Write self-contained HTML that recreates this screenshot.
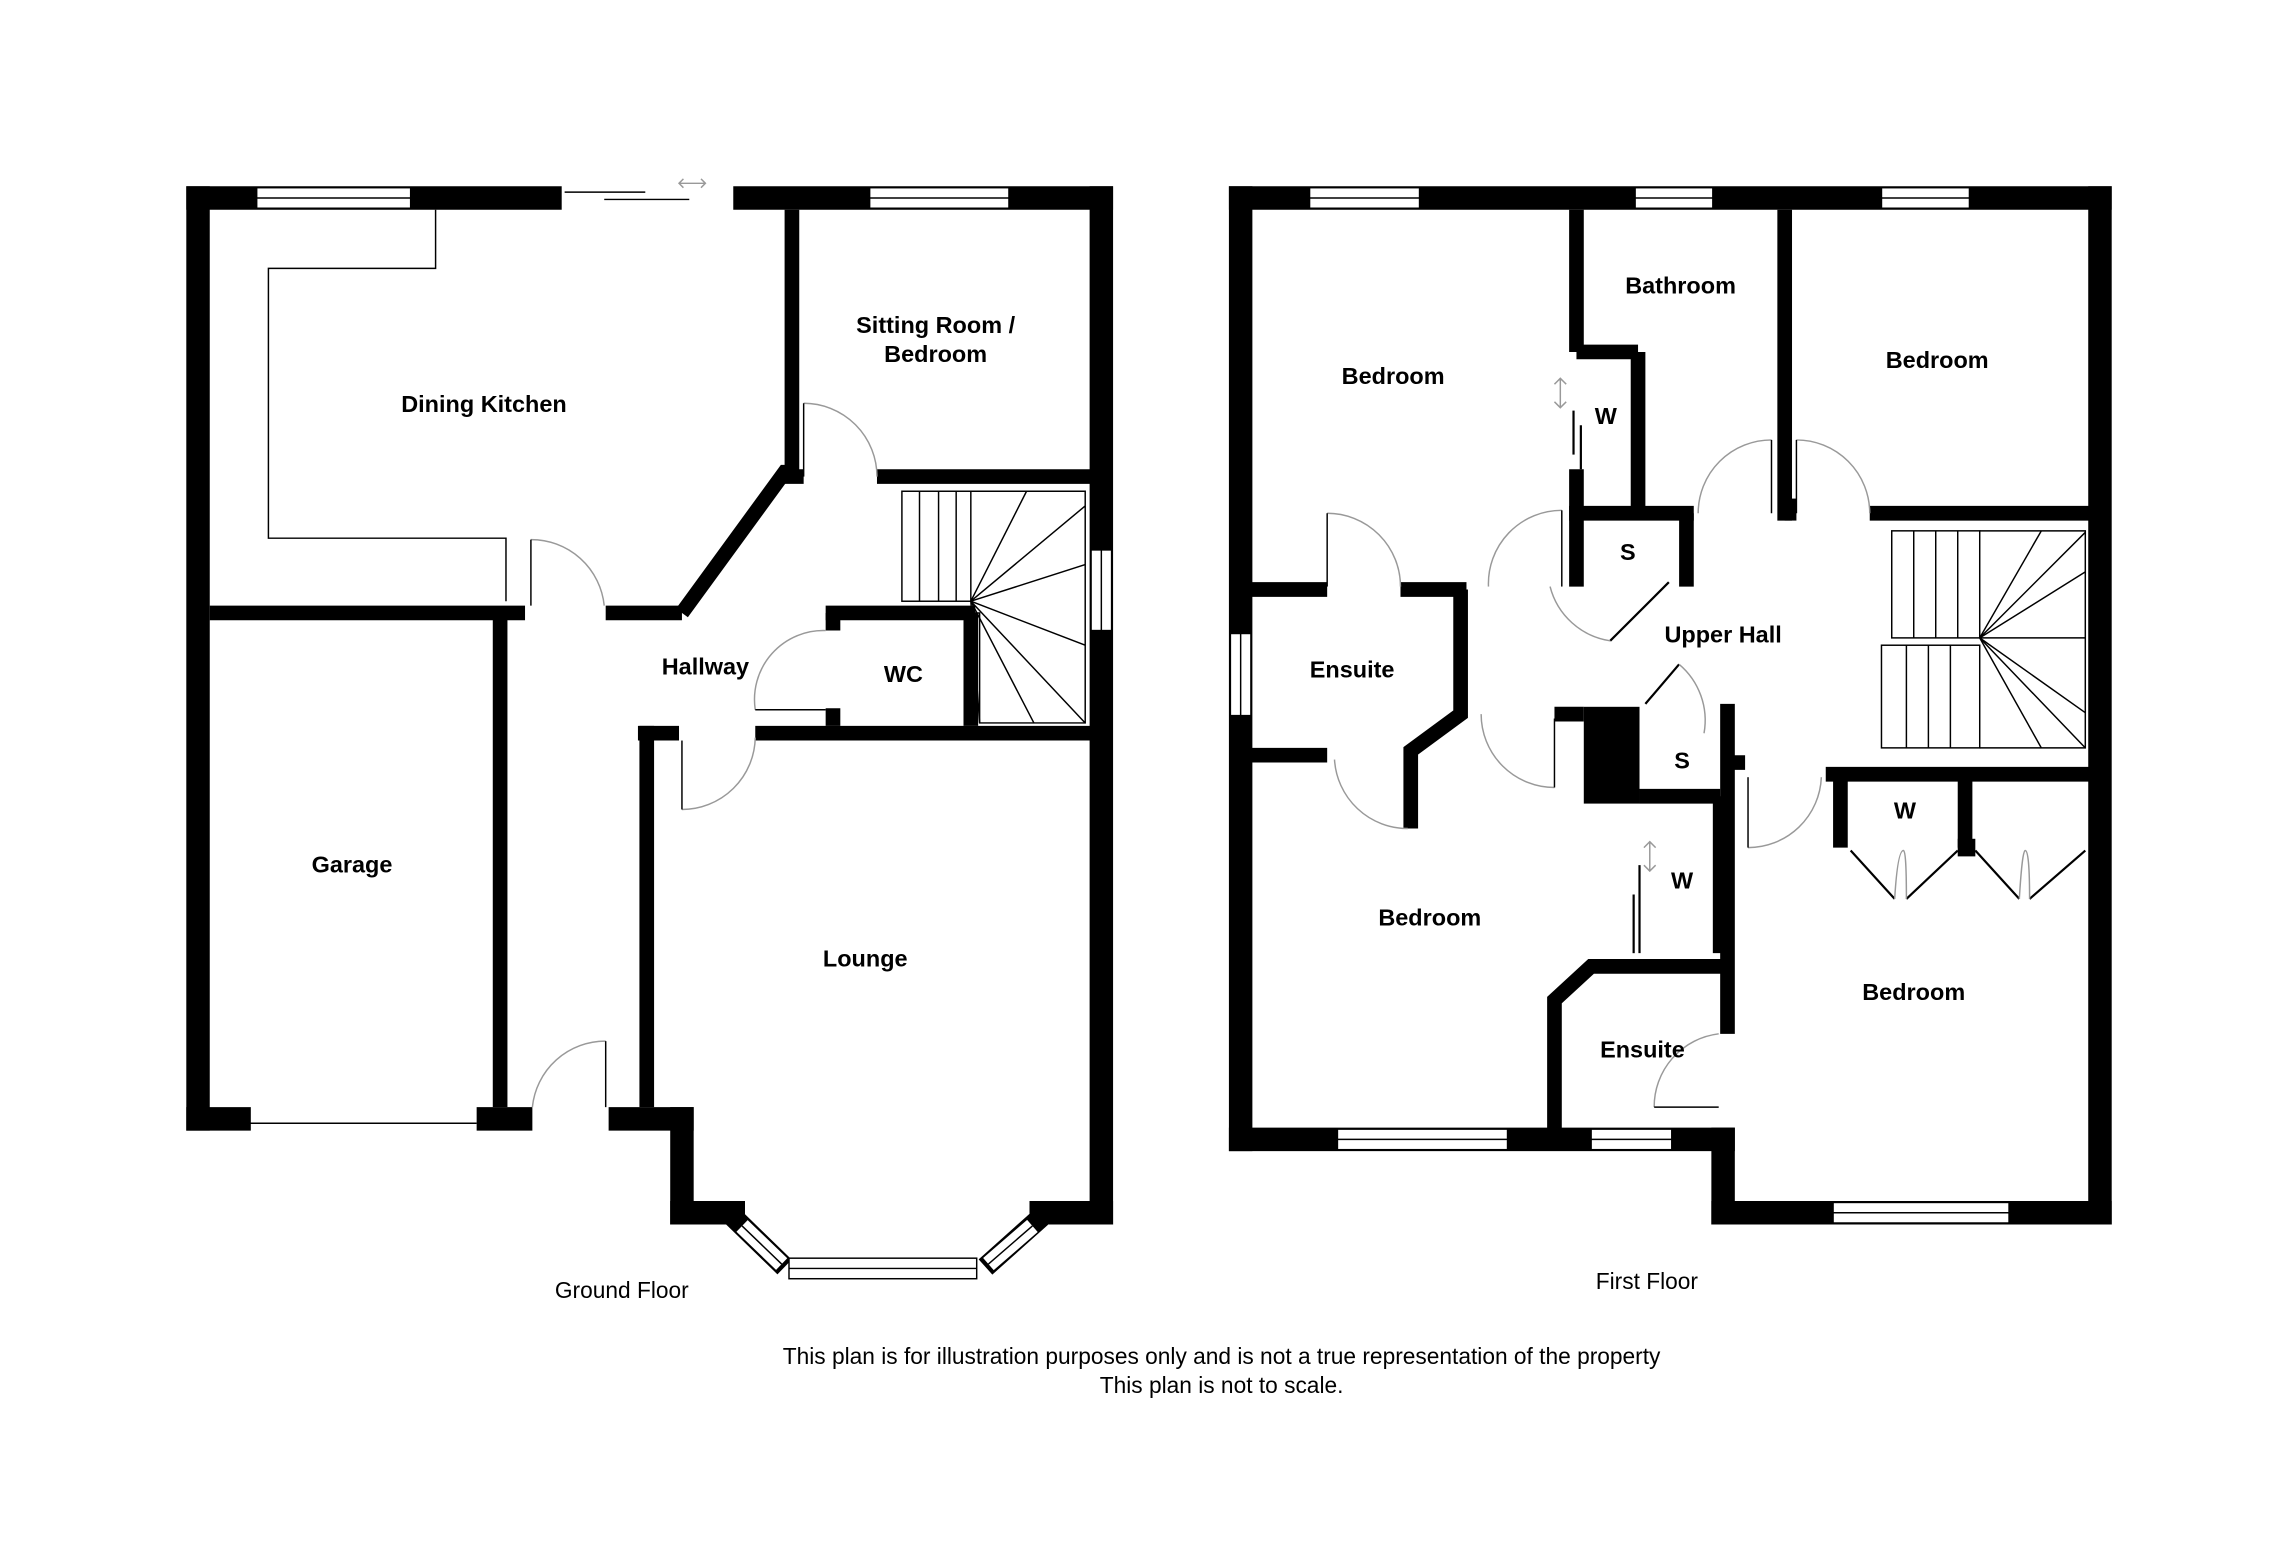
<!DOCTYPE html>
<html><head><meta charset="utf-8"><style>
html,body{margin:0;padding:0;background:#fff}
svg{display:block}
text{font-family:"Liberation Sans",sans-serif;fill:#000}
.b{font-weight:bold;font-size:16px}
.n{font-size:15.5px}
</style></head><body>
<svg width="2276" height="1550" viewBox="0 0 1552 1057" xmlns="http://www.w3.org/2000/svg">
<g stroke="#000" stroke-width="16" fill="none" stroke-linecap="square">
<line x1="135" y1="135" x2="375" y2="135"/>
<line x1="508" y1="135" x2="751" y2="135"/>
<line x1="135" y1="135" x2="135" y2="763"/>
<line x1="751" y1="135" x2="751" y2="827"/>
<line x1="135" y1="763" x2="163" y2="763"/>
<line x1="333" y1="763" x2="355" y2="763"/>
<line x1="423" y1="763" x2="465" y2="763"/>
<line x1="465" y1="763" x2="465" y2="827"/>
<line x1="465" y1="827" x2="500" y2="827"/>
<line x1="710" y1="827" x2="751" y2="827"/>
<line x1="846" y1="135" x2="1432" y2="135"/>
<line x1="846" y1="135" x2="846" y2="777"/>
<line x1="1432" y1="135" x2="1432" y2="827"/>
<line x1="846" y1="777" x2="1175" y2="777"/>
<line x1="1175" y1="777" x2="1175" y2="827"/>
<line x1="1175" y1="827" x2="1432" y2="827"/>
</g>
<!-- bay diagonals as windows -->
<g stroke="#000" stroke-width="14" fill="none">
<line x1="500" y1="830" x2="535" y2="864"/>
<line x1="710" y1="830" x2="672" y2="864"/>
</g>
<g stroke="#fff" stroke-width="11" fill="none">
<line x1="506" y1="836" x2="533" y2="862"/>
<line x1="704" y1="836" x2="674" y2="862"/>
</g>
<g stroke="#000" stroke-width="1" fill="none">
<line x1="506" y1="836" x2="533" y2="862"/>
<line x1="704" y1="836" x2="674" y2="862"/>
</g>
<g fill="#fff" stroke="#000" stroke-width="1">
<rect x="175" y="128" width="105" height="14"/>
<rect x="593" y="128" width="95" height="14"/>
<rect x="744" y="375" width="14" height="55"/>
<rect x="538" y="858" width="128" height="14"/>
<rect x="893" y="128" width="75" height="14"/>
<rect x="1115" y="128" width="53" height="14"/>
<rect x="1283" y="128" width="60" height="14"/>
<rect x="839" y="432" width="14" height="56"/>
<rect x="912" y="770" width="116" height="14"/>
<rect x="1085" y="770" width="55" height="14"/>
<rect x="1250" y="820" width="120" height="14"/>
</g>
<g stroke="#000" stroke-width="1" fill="none">
<line x1="175" y1="135" x2="280" y2="135"/><line x1="593" y1="135" x2="688" y2="135"/>
<line x1="751" y1="375" x2="751" y2="430"/><line x1="538" y1="865" x2="666" y2="865"/>
<line x1="893" y1="135" x2="968" y2="135"/><line x1="1115" y1="135" x2="1168" y2="135"/>
<line x1="1283" y1="135" x2="1343" y2="135"/><line x1="846" y1="432" x2="846" y2="488"/>
<line x1="912" y1="777" x2="1028" y2="777"/><line x1="1085" y1="777" x2="1140" y2="777"/>
<line x1="1250" y1="827" x2="1370" y2="827"/>
<line x1="170" y1="766" x2="325" y2="766"/>
<line x1="385" y1="131" x2="440" y2="131"/><line x1="412" y1="136" x2="470" y2="136"/>
<path d="M463,125 h18 M466,122 l-3,3 3,3 M478,122 l3,3 -3,3" stroke="#999"/>
<polyline points="297,143 297,183 183,183 183,367 345,367 345,410"/>
</g>
<g stroke="#000" stroke-width="10" fill="none">
<line x1="143" y1="418" x2="358" y2="418"/>
<line x1="413" y1="418" x2="465" y2="418"/>
<polyline points="465,418 535,322 540,322 540,143"/>
<line x1="535" y1="325" x2="548" y2="325"/>
<line x1="598" y1="325" x2="745" y2="325"/>
<line x1="341" y1="418" x2="341" y2="755"/>
<line x1="441" y1="495" x2="441" y2="755"/>
<line x1="435" y1="500" x2="463" y2="500"/>
<line x1="515" y1="500" x2="745" y2="500"/>
<line x1="563" y1="418" x2="665" y2="418"/>
<line x1="568" y1="418" x2="568" y2="430"/>
<line x1="568" y1="483" x2="568" y2="495"/>
<line x1="662" y1="418" x2="662" y2="495"/>
</g>
<g stroke="#000" stroke-width="10" fill="none">
<line x1="1075" y1="143" x2="1075" y2="240"/>
<line x1="1075" y1="240" x2="1117" y2="240"/>
<line x1="1117" y1="240" x2="1117" y2="350"/>
<line x1="1075" y1="320" x2="1075" y2="400"/>
<line x1="1070" y1="350" x2="1155" y2="350"/>
<line x1="1150" y1="350" x2="1150" y2="400"/>
<line x1="1217" y1="143" x2="1217" y2="355"/>
<line x1="1275" y1="350" x2="1425" y2="350"/>
<line x1="853" y1="402" x2="905" y2="402"/>
<line x1="955" y1="402" x2="1000" y2="402"/>
<polyline points="996,402 996,487 962,512 962,565"/>
<line x1="853" y1="515" x2="905" y2="515"/>
<line x1="1060" y1="487" x2="1080" y2="487"/>
<line x1="1118" y1="543" x2="1173" y2="543"/>
<line x1="1178" y1="480" x2="1178" y2="705"/>
<line x1="1178" y1="520" x2="1190" y2="520"/>
<line x1="1245" y1="528" x2="1425" y2="528"/>
<line x1="1255" y1="528" x2="1255" y2="578"/>
<line x1="1340" y1="528" x2="1340" y2="578"/>
<line x1="1173" y1="543" x2="1173" y2="650"/>
<polyline points="1175,659 1085,659 1060,682 1060,770"/>
</g>
<rect x="1080" y="482" width="38" height="66" fill="#000"/>
<rect x="1335" y="572" width="12" height="12" fill="#000"/>
<rect x="1217" y="340" width="8" height="15" fill="#000"/>
<g stroke="#000" stroke-width="1.5" fill="none">
<line x1="1078" y1="290" x2="1078" y2="320"/><line x1="1073" y1="280" x2="1073" y2="310"/>
<line x1="1118" y1="590" x2="1118" y2="650"/><line x1="1114" y1="610" x2="1114" y2="650"/>
<line x1="1098" y1="437" x2="1138" y2="397"/>
<line x1="1122" y1="480" x2="1145" y2="453"/>
<polyline points="1262,580 1292,613"/><polyline points="1300,613 1335,580"/>
<polyline points="1347,580 1377,613"/><polyline points="1384,613 1422,580"/>
</g>
<g stroke="#999" stroke-width="1" fill="none">
<path d="M548,275 A50,50 0 0 1 598,325"/><line x1="548" y1="275" x2="548" y2="325" stroke="#000"/>
<path d="M362,368 A50,50 0 0 1 412,413"/><line x1="362" y1="368" x2="362" y2="413" stroke="#000"/>
<path d="M515,484 A47,47 0 0 1 563,430"/><line x1="515" y1="484" x2="563" y2="484" stroke="#000"/>
<path d="M465,552 A50,50 0 0 0 515,503"/><line x1="465" y1="505" x2="465" y2="552" stroke="#000"/>
<path d="M363,755 A50,50 0 0 1 413,710"/><line x1="413" y1="710" x2="413" y2="755" stroke="#000"/>
<path d="M905,350 A50,50 0 0 1 955,400"/><line x1="905" y1="350" x2="905" y2="400" stroke="#000"/>
<path d="M1015,400 A50,50 0 0 1 1065,348"/><line x1="1065" y1="348" x2="1065" y2="400" stroke="#000"/>
<path d="M1158,350 A50,50 0 0 1 1208,300"/><line x1="1208" y1="300" x2="1208" y2="350" stroke="#000"/>
<path d="M1225,300 A50,50 0 0 1 1275,350"/><line x1="1225" y1="300" x2="1225" y2="350" stroke="#000"/>
<path d="M1057,400 A50,50 0 0 0 1098,437"/>
<path d="M1145,453 A50,50 0 0 1 1162,500"/>
<path d="M1010,487 A50,50 0 0 0 1060,537"/><line x1="1060" y1="490" x2="1060" y2="537" stroke="#000"/>
<path d="M910,518 A50,50 0 0 0 960,565"/>
<path d="M1192,578 A50,50 0 0 0 1242,530"/><line x1="1192" y1="530" x2="1192" y2="578" stroke="#000"/>
<path d="M1128,755 A50,50 0 0 1 1172,705"/><line x1="1128" y1="755" x2="1172" y2="755" stroke="#000"/>
<path d="M1292,613 Q1294,580 1298,580 Q1300,580 1300,613"/>
<path d="M1377,613 Q1379,580 1381,580 Q1384,580 1384,613"/>
<path d="M1064,258 v20 M1060,262 l4,-4 4,4 M1060,274 l4,4 4,-4"/>
<path d="M1125,574 v20 M1121,578 l4,-4 4,4 M1121,590 l4,4 4,-4"/>
</g>
<g stroke="#000" stroke-width="1" fill="none">
<rect x="615" y="335" width="47" height="75"/>
<line x1="627" y1="335" x2="627" y2="410"/><line x1="640" y1="335" x2="640" y2="410"/><line x1="652" y1="335" x2="652" y2="410"/>
<polyline points="662,335 740,335 740,493 668,493 668,418 662,418"/>
<line x1="662" y1="410" x2="700" y2="335"/><line x1="662" y1="410" x2="740" y2="345"/><line x1="662" y1="410" x2="740" y2="385"/>
<line x1="662" y1="410" x2="740" y2="440"/><line x1="662" y1="410" x2="740" y2="493"/><line x1="662" y1="410" x2="705" y2="493"/><line x1="662" y1="410" x2="668" y2="493"/>
</g>
<g stroke="#000" stroke-width="1" fill="none">
<rect x="1290" y="362" width="60" height="73"/>
<line x1="1305" y1="362" x2="1305" y2="435"/><line x1="1320" y1="362" x2="1320" y2="435"/><line x1="1335" y1="362" x2="1335" y2="435"/>
<rect x="1283" y="440" width="67" height="70"/>
<line x1="1300" y1="440" x2="1300" y2="510"/><line x1="1315" y1="440" x2="1315" y2="510"/><line x1="1330" y1="440" x2="1330" y2="510"/>
<polyline points="1350,362 1422,362 1422,510 1350,510"/>
<line x1="1350" y1="435" x2="1392" y2="362"/><line x1="1350" y1="435" x2="1422" y2="363"/><line x1="1350" y1="435" x2="1422" y2="390"/>
<line x1="1350" y1="435" x2="1422" y2="435"/><line x1="1350" y1="435" x2="1422" y2="486"/><line x1="1350" y1="435" x2="1422" y2="510"/><line x1="1350" y1="435" x2="1392" y2="510"/>
</g>
<g class="b" text-anchor="middle">
<text x="330" y="281">Dining Kitchen</text>
<text x="638" y="227">Sitting Room /</text>
<text x="638" y="247">Bedroom</text>
<text x="481" y="460">Hallway</text>
<text x="616" y="465">WC</text>
<text x="240" y="595">Garage</text>
<text x="590" y="659">Lounge</text>
<text x="950" y="262">Bedroom</text>
<text x="1146" y="200">Bathroom</text>
<text x="1321" y="251">Bedroom</text>
<text x="1095" y="289">W</text>
<text x="1110" y="382">S</text>
<text x="1175" y="438">Upper Hall</text>
<text x="922" y="462">Ensuite</text>
<text x="1147" y="524">S</text>
<text x="1299" y="558">W</text>
<text x="1147" y="606">W</text>
<text x="975" y="631">Bedroom</text>
<text x="1305" y="682">Bedroom</text>
<text x="1120" y="721">Ensuite</text>
</g>
<g class="n" text-anchor="middle">
<text x="424" y="885">Ground Floor</text>
<text x="1123" y="879">First Floor</text>
<text x="833" y="930">This plan is for illustration purposes only and is not a true representation of the property</text>
<text x="833" y="950">This plan is not to scale.</text>
</g>
</svg>
</body></html>
